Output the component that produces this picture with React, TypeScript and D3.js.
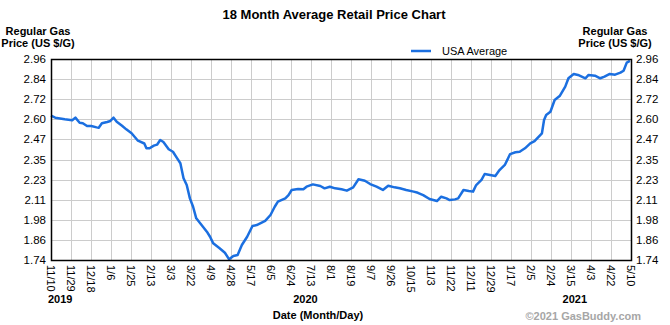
import React from "react";
import * as d3 from "d3";

const title = "18 Month Average Retail Price Chart";
const seriesName = "USA Average";
const startDate = new Date(2019, 10, 10);
const endDate = new Date(2021, 4, 10);

// day offsets from 2019-11-10 and USA average regular gas price (US $/G)
const dayOffsets = [
  0, 4, 13, 20, 23, 27, 30, 34, 38, 43, 45, 48, 53, 56, 59, 62, 67, 71, 76, 82,
  88, 90, 93, 97, 100, 103, 106, 111, 115, 119, 122, 125, 128, 131, 134, 137, 142, 147, 150, 153,
  159, 164, 168, 172, 176, 180, 185, 190, 194, 202, 207, 211, 214, 221, 224, 227, 233, 238, 241, 247,
  254, 258, 263, 268, 274, 279, 285, 290, 296, 301, 307, 313, 318, 324, 329, 335, 342, 346, 351, 357,
  364, 368, 373, 376, 381, 384, 389, 394, 398, 401, 406, 409, 414, 419, 423, 428, 433, 438, 442, 447,
  452, 456, 463, 465, 467, 471, 475, 480, 485, 488, 493, 497, 504, 507, 513, 518, 522, 527, 532, 537,
  540, 543, 546,
];
const prices = [
  2.616, 2.604, 2.594, 2.588, 2.604, 2.573, 2.57, 2.553, 2.553, 2.545, 2.543, 2.57, 2.578, 2.584, 2.604, 2.579, 2.555, 2.533, 2.509, 2.464,
  2.447, 2.418, 2.418, 2.434, 2.44, 2.468, 2.456, 2.412, 2.397, 2.357, 2.327, 2.236, 2.195, 2.114, 2.063, 1.993, 1.952, 1.912, 1.881, 1.841,
  1.811, 1.784, 1.744, 1.764, 1.77, 1.831, 1.881, 1.946, 1.952, 1.977, 2.013, 2.063, 2.094, 2.114, 2.134, 2.165, 2.171, 2.169, 2.185, 2.199,
  2.189, 2.175, 2.185, 2.175, 2.169, 2.161, 2.181, 2.23, 2.221, 2.201, 2.185, 2.165, 2.191, 2.181, 2.175, 2.165, 2.155, 2.148, 2.134, 2.11,
  2.098, 2.124, 2.114, 2.104, 2.108, 2.114, 2.165, 2.159, 2.155, 2.195, 2.226, 2.262, 2.256, 2.25, 2.286, 2.317, 2.383, 2.394, 2.397, 2.418,
  2.448, 2.462, 2.509, 2.59, 2.62, 2.64, 2.711, 2.737, 2.792, 2.843, 2.869, 2.863, 2.843, 2.863, 2.859, 2.843, 2.853, 2.869, 2.865, 2.877,
  2.889, 2.938, 2.948,
];

const xTickLabels = [
  "11/10", "11/29", "12/18", "1/6", "1/25", "2/13", "3/3", "3/22", "4/9", "4/28",
  "5/17", "6/5", "6/24", "7/13", "8/1", "8/19", "9/7", "9/26", "10/15", "11/3",
  "11/22", "12/11", "12/29", "1/17", "2/5", "2/24", "3/15", "4/3", "4/22", "5/10",
];
const yTickLabels = ["1.74", "1.86", "1.98", "2.11", "2.23", "2.35", "2.47", "2.60", "2.72", "2.84", "2.96"];
const yearLabels = ["2019", "2020", "2021"];
const yearDays = [0, 240, 494];

const FONT = "Arial, 'Liberation Sans', sans-serif";
const W = 670, H = 325;
const L = 51, R = 631, T = 59, B = 260;

export default function App() {
  const x = d3.scaleTime().domain([startDate, endDate]).range([L, R]);
  const xIdx = d3.scaleLinear().domain([0, xTickLabels.length - 1]).range([L, R]);
  const y = d3.scaleLinear().domain([1.74, 2.96]).range([B, T]);
  const yIdx = d3.scaleLinear().domain([0, yTickLabels.length - 1]).range([B, T]);
  const dayToDate = (d: number) => d3.timeDay.offset(startDate, d);
  const data = dayOffsets.map((d, i) => ({ date: dayToDate(d), v: prices[i] }));
  const line = d3
    .line<{ date: Date; v: number }>()
    .x((d) => x(d.date))
    .y((d) => y(d.v))
    .curve(d3.curveLinear);

  return (
    <svg
      width={W}
      height={H}
      style={{ position: "absolute", left: 0, top: 0, background: "#fff" }}
      fontFamily={FONT}
    >
      <rect x={0} y={0} width={W} height={H} fill="#fff" />
      <text x={334} y={19} textAnchor="middle" fontSize={13} fontWeight="bold" fill="#000">
        {title}
      </text>
      {/* axis titles */}
      <g fontSize={11} fontWeight="bold" fill="#000" textAnchor="middle">
        <text x={38} y={35}>Regular Gas</text>
        <text x={38} y={47}>Price (US $/G)</text>
        <text x={615} y={35}>Regular Gas</text>
        <text x={615} y={47}>Price (US $/G)</text>
      </g>
      {/* legend */}
      <line x1={411} x2={431} y1={51} y2={51} stroke="#1b6fe0" strokeWidth={2.5} />
      <text x={442} y={55} fontSize={11} fill="#000">{seriesName}</text>

      {/* grid */}
      <g stroke="#cccccc" strokeWidth={1}>
        {xTickLabels.map((_, i) => (
          <line key={"vx" + i} x1={Math.round(xIdx(i)) + 0.5} x2={Math.round(xIdx(i)) + 0.5} y1={T} y2={B} />
        ))}
        {yTickLabels.map((_, i) => (
          <line key={"hy" + i} x1={L} x2={R} y1={Math.round(yIdx(i)) + 0.5} y2={Math.round(yIdx(i)) + 0.5} />
        ))}
      </g>

      {/* data line */}
      <path d={line(data) || ""} fill="none" stroke="#1b6fe0" strokeWidth={2.5} strokeLinejoin="round" />

      {/* frame */}
      <rect x={L + 0.5} y={T + 0.5} width={R - L} height={B - T} fill="none" stroke="#000" strokeWidth={1.5} />

      {/* y tick labels */}
      <g fontSize={11.5} fill="#000">
        {yTickLabels.map((t, i) => (
          <text key={"yl" + i} x={46} y={yIdx(i)} textAnchor="end" dominantBaseline="central">{t}</text>
        ))}
        {yTickLabels.map((t, i) => (
          <text key={"yr" + i} x={636} y={yIdx(i)} textAnchor="start" dominantBaseline="central">{t}</text>
        ))}
      </g>

      {/* x tick labels */}
      <g fontSize={11} fill="#000">
        {xTickLabels.map((t, i) => (
          <text
            key={"xl" + i}
            transform={`translate(${xIdx(i)},${B + 5}) rotate(90)`}
            textAnchor="start"
            dominantBaseline="central"
          >
            {t}
          </text>
        ))}
      </g>

      {/* years */}
      <g fontSize={11} fontWeight="bold" fill="#000">
        {yearLabels.map((yl, i) => (
          <text key={yl} x={x(dayToDate(yearDays[i])) - (i === 0 ? 3 : 0)} y={303} textAnchor={i === 0 ? "start" : "middle"}>
            {yl}
          </text>
        ))}
      </g>
      <text x={318} y={319} textAnchor="middle" fontSize={11} fontWeight="bold" fill="#000">
        Date (Month/Day)
      </text>
      <text x={641} y={320} textAnchor="end" fontSize={11} fontWeight="bold" fill="#a6a6a6">
        ©2021 GasBuddy.com
      </text>
    </svg>
  );
}
